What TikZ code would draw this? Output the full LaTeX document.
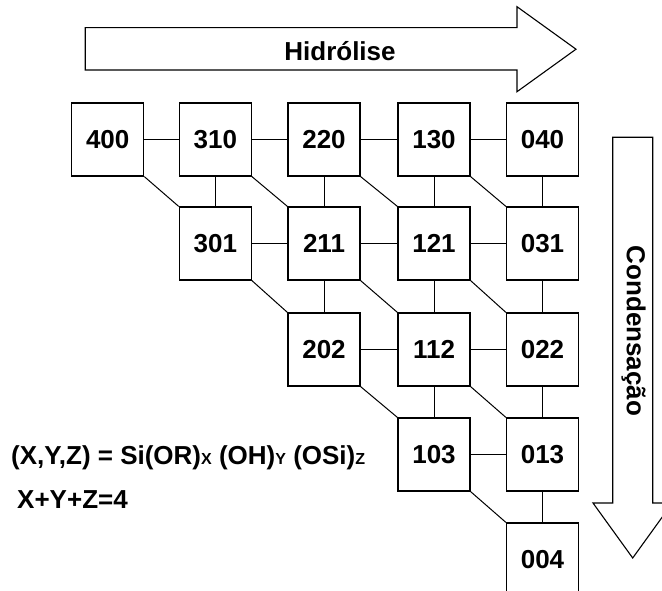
\documentclass[tikz,border=0pt]{standalone}
\usepackage{fontspec}
\setmainfont{Liberation Sans}
\newcommand{\bigtxt}{\fontsize{26}{29}\selectfont\bfseries}
\newcommand{\subtxt}{\fontsize{16}{18}\selectfont\bfseries}
\begin{document}
\begin{tikzpicture}[x=1pt,y=-1pt,
  stagebox/.style={draw,line width=1.2pt,minimum width=72pt,minimum height=73pt,inner sep=0pt,font=\bigtxt},
  link/.style={line width=1pt},
  bigarrow/.style={draw,line width=1.1pt,fill=white,line join=miter},
  label/.style={font=\bigtxt,inner sep=0pt}]
\useasboundingbox (0,0) rectangle (662,591);
\clip (0,0) rectangle (662,591);
% big arrows
\draw[bigarrow] (85.2,27.7) -- (517,27.7) -- (517,6.7) -- (576,49.2) -- (517,91.7) -- (517,70) -- (85.2,70) -- cycle;
\node[label] (hid) at (340,51) {Hidrólise};
\draw[bigarrow] (612.7,137.3) -- (652.7,137.3) -- (652.7,503) -- (672.4,503) -- (632.7,558) -- (593,503) -- (612.7,503) -- cycle;
\node[label,rotate=-90] (cond) at (633.5,331) {Condensação};
% boxes
\node[stagebox] (b400) at (107.7,139.5) {400};
\node[stagebox] (b310) at (215.3,139.5) {310};
\node[stagebox] (b220) at (324,139.5) {220};
\node[stagebox] (b130) at (434,139.5) {130};
\node[stagebox] (b040) at (542.5,139.5) {040};
\node[stagebox] (b301) at (215.3,243.5) {301};
\node[stagebox] (b211) at (324,243.5) {211};
\node[stagebox] (b121) at (434,243.5) {121};
\node[stagebox] (b031) at (542.5,243.5) {031};
\node[stagebox] (b202) at (324,349.5) {202};
\node[stagebox] (b112) at (434,349.5) {112};
\node[stagebox] (b022) at (542.5,349.5) {022};
\node[stagebox] (b103) at (434,454.5) {103};
\node[stagebox] (b013) at (542.5,454.5) {013};
\node[stagebox] (b004) at (542.5,559.5) {004};
% horizontal links
\draw[link] (b400) -- (b310);
\draw[link] (b310) -- (b220);
\draw[link] (b220) -- (b130);
\draw[link] (b130) -- (b040);
\draw[link] (b301) -- (b211);
\draw[link] (b211) -- (b121);
\draw[link] (b121) -- (b031);
\draw[link] (b202) -- (b112);
\draw[link] (b112) -- (b022);
\draw[link] (b103) -- (b013);
% vertical links
\draw[link] (b310) -- (b301);
\draw[link] (b220) -- (b211);
\draw[link] (b130) -- (b121);
\draw[link] (b040) -- (b031);
\draw[link] (b211) -- (b202);
\draw[link] (b121) -- (b112);
\draw[link] (b031) -- (b022);
\draw[link] (b112) -- (b103);
\draw[link] (b022) -- (b013);
\draw[link] (b013) -- (b004);
% diagonal links
\draw[link] (b400.south east) -- (b301.north west);
\draw[link] (b310.south east) -- (b211.north west);
\draw[link] (b220.south east) -- (b121.north west);
\draw[link] (b130.south east) -- (b031.north west);
\draw[link] (b301.south east) -- (b202.north west);
\draw[link] (b211.south east) -- (b112.north west);
\draw[link] (b121.south east) -- (b022.north west);
\draw[link] (b202.south east) -- (b103.north west);
\draw[link] (b112.south east) -- (b013.north west);
\draw[link] (b103.south east) -- (b004.north west);
% formula
\node[label,anchor=base west] (formula) at (11,464) {(X,Y,Z) = Si(OR){\subtxt X} (OH){\subtxt Y} (OSi){\subtxt Z}};
\node[label,anchor=base west] (sumrule) at (17,508) {X+Y+Z=4};
\end{tikzpicture}
\end{document}
